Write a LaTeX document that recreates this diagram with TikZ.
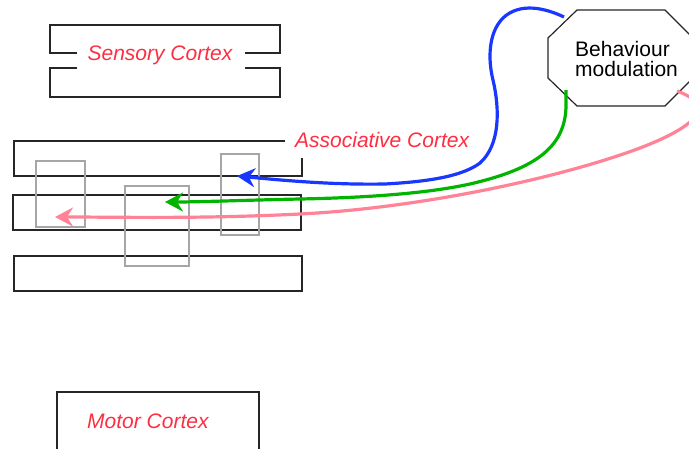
\documentclass[tikz,border=0pt]{standalone}
\usepackage{fontspec}
\setmainfont{Liberation Sans}
\usetikzlibrary{arrows.meta}
\definecolor{cortexred}{RGB}{255,45,65}
\definecolor{fibreblue}{RGB}{25,55,255}
\definecolor{fibregreen}{RGB}{0,180,0}
\definecolor{fibrepink}{RGB}{255,130,150}

\begin{document}
\begin{tikzpicture}[x=1pt,y=-1pt,line join=miter,
  cortexbox/.style={draw=black!85,line width=1.2pt},
  columnbox/.style={draw=black!35,line width=2.2pt},
  cortextext/.style={text=cortexred,font=\fontsize{21}{20}\selectfont\itshape,inner sep=0pt},
  projection/.style={line width=3.2pt,-{Stealth[length=18pt,width=19pt,inset=6pt]}}]
\useasboundingbox (0,0) rectangle (689,448);
\draw[cortexbox] (77,53) -- (50,53) -- (50,25) -- (280,25) -- (280,53) -- (245,53);
\draw[cortexbox] (77,68) -- (50,68) -- (50,97) -- (280,97) -- (280,68) -- (245,68);
\node[cortextext,anchor=base] (sensory) at (160,60) {Sensory Cortex};
\draw[cortexbox] (285,141) -- (14,141) -- (14,176) -- (302,176) -- (302,158);
\node[cortextext,anchor=base west] (associative) at (295,147) {Associative Cortex};
\draw[cortexbox] (13,195) rectangle (301,230);
\draw[cortexbox] (14,256) rectangle (302,291);
\draw[columnbox] (36,161) rectangle (85,227);
\draw[columnbox] (125,186) rectangle (189,266);
\draw[columnbox] (221,154) rectangle (259,235);
\draw[cortexbox] (57,470) -- (57,392) -- (259,392) -- (259,470);
\node[cortextext,anchor=base west] (motor) at (87,428) {Motor Cortex};
\draw[cortexbox,fill=white] (548,38) -- (577,10) -- (665,10) -- (694,39) -- (694,77) -- (665,106) -- (577,106) -- (548,78) -- cycle;
\node[anchor=west,align=left,inner sep=0pt,font=\fontsize{21}{20}\selectfont] (modulation) at (575,59) {Behaviour\\modulation};
\coordinate (blue-from) at (564,17);
\coordinate (green-from) at (566,90);
\coordinate (pink-from) at (677,91);
\coordinate (blue-to) at (237,176);
\coordinate (green-to) at (165,202);
\coordinate (pink-to) at (55,217);
\draw[projection,fibreblue] (blue-from) .. controls (545,8) and (520,2) .. (503,18)
  .. controls (488,33) and (488,60) .. (493,80) .. controls (500,110) and (500,145) .. (480,163)
  .. controls (460,178) and (420,182) .. (385,184) .. controls (330,185) and (280,180) .. (blue-to);
\draw[projection,fibregreen] (green-from) -- (566,105) .. controls (566,150) and (530,170) .. (470,184)
  .. controls (420,195) and (350,198) .. (300,199) .. controls (250,200) and (200,202) .. (green-to);
\draw[projection,fibrepink] (pink-from) .. controls (715,105) and (700,125) .. (640,148)
  .. controls (560,178) and (420,208) .. (300,214) .. controls (200,219) and (120,217) .. (pink-to);
\end{tikzpicture}
\end{document}
